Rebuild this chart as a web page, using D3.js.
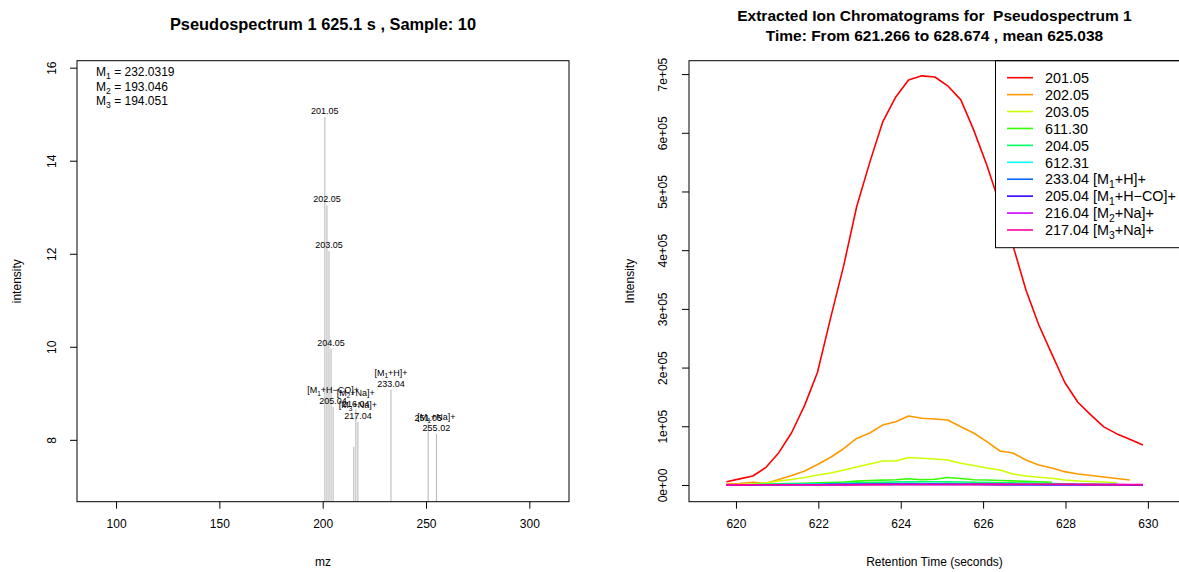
<!DOCTYPE html>
<html><head><meta charset="utf-8">
<script src="https://cdn.jsdelivr.net/npm/d3@7"></script>
<style>
html,body{margin:0;padding:0;background:#fff;}
svg{display:block;font-family:"Liberation Sans",Arial,Helvetica,sans-serif;}
</style></head><body>
<svg id="chart" width="1179" height="572"></svg>
<script>
// ---- Pseudospectrum (left panel) ----
const specMz    = [201.05, 202.05, 203.05, 204.05, 205.04, 215.04, 216.04, 217.04, 233.04, 251.05, 255.02];
const specInt   = [14.94, 13.04, 12.06, 9.96, 8.71, 7.85, 8.65, 8.38, 9.08, 8.35, 8.13];
const specLabel = ["201.05", "202.05", "203.05", "204.05", "[M_1+H\u2212CO]+\n205.04", "",
                   "[M_2+Na]+\n216.04", "[M_3+Na]+\n217.04", "[M_1+H]+\n233.04", "251.05", "[M_1+Na]+\n255.02"];
const massNotes = ["M_1 = 232.0319", "M_2 = 193.046", "M_3 = 194.051"];
const mzTicks  = [100, 150, 200, 250, 300];
const intTicks = [8, 10, 12, 14, 16];

// ---- Extracted ion chromatograms (right panel) ----
const rt = [619.77, 620.09, 620.41, 620.72, 621.04, 621.35, 621.67, 621.98, 622.30, 622.62, 622.93,
            623.25, 623.56, 623.88, 624.19, 624.51, 624.83, 625.14, 625.46, 625.77, 626.09, 626.41,
            626.72, 627.04, 627.35, 627.67, 627.98, 628.30, 628.62, 628.93, 629.25, 629.56, 629.88];
const eic201 = [5600, 10400, 15300, 29500, 55000, 89000, 136000, 192000, 285000, 375000, 474000,
                550000, 618000, 661000, 690000, 697000, 695000, 680000, 656000, 605000, 545000, 477000,
                409000, 332000, 273000, 223000, 175000, 141000, 119000, 99000, 87000, 78000, 68000];
const eic202 = [1700, 2600, 4600, 2600, 9400, 16200, 23900, 34900, 47200, 62200, 79200,
                88600, 102000, 107800, 117500, 113600, 112400, 110700, 99300, 88600, 73800, 57900,
                54500, 42600, 34100, 29000, 22700, 18700, 16200, 13600, 11100, 8500, null];
const eic203 = [500, 900, 1700, 3400, 6800, 9400, 12800, 17000, 20400, 25600, 30700,
                35800, 40900, 40900, 46800, 45500, 44300, 42600, 37000, 33200, 29000, 25600,
                18700, 15300, 13100, 11400, 8500, 6800, 6000, 5100, 3900, null, null];
const eic611 = [null, 500, 900, 1300, 1800, 2300, 2900, 3500, 4200, 5000, 6500,
                7500, 8300, 8800, 10500, 9000, 9700, 12800, 11000, 9000, 8500, 7700,
                7000, 6200, 5400, 4600, null, null, null, null, null, null, null];
const eic204 = [null, null, 400, 600, 900, 1200, 1600, 2000, 2500, 3000, 3500,
                4000, 4500, 5000, 5300, 5400, 5600, 5300, 5000, 4700, 4300, 3900,
                3500, 3100, 2700, 2300, 2000, 1700, 1400, 1200, 1000, null, null];
const eic612 = [null, 300, 500, 700, 900, 1100, 1300, 1500, 1700, 1900, 2000,
                2100, 2200, 2300, 2400, 2400, 2300, 2200, 2100, 1800, 1500, 1200,
                1000, 800, 600, 500, 400, 300, 300, 200, 200, null, null];
const eic233 = [300, 400, 500, 500, 600, 700, 800, 900, 1000, 1100, 1200,
                1300, 1400, 1500, 1500, 1500, 1400, 1400, 1300, 1200, 1100, 1000,
                900, 800, 700, 600, 500, 500, 400, 400, 300, 300, 300];
const eic205 = [200, 200, 300, 300, 400, 400, 500, 500, 600, 600, 700,
                700, 800, 800, 900, 900, 900, 800, 800, 700, 700, 600,
                600, 500, 500, 400, 400, 400, 300, 300, 300, 200, 200];
const eic216 = [100, 200, 200, 300, 300, 400, 400, 500, 500, 600, 600,
                700, 700, 800, 800, 900, 900, 900, 900, 900, 900, 900,
                900, 900, 900, 900, 1000, 1000, 1000, 1000, 1000, 900, 900];
const eic217 = [200, 200, 300, 300, 300, 400, 400, 400, 500, 500, 500,
                600, 600, 700, 700, 800, 800, 900, 900, 1000, 1000, 1100,
                1200, 1300, 1300, 1300, 1300, 700, 600, 500, 400, 300, 300];
const eicSeries = [eic201, eic202, eic203, eic611, eic204, eic612, eic233, eic205, eic216, eic217];
const eicNames  = ["201.05", "202.05", "203.05", "611.30", "204.05", "612.31",
                   "233.04 [M_1+H]+", "205.04 [M_1+H\u2212CO]+", "216.04 [M_2+Na]+", "217.04 [M_3+Na]+"];
const eicColors = ["#FF0000", "#FF9900", "#CCFF00", "#33FF00", "#00FF66",
                   "#00FFFF", "#0066FF", "#3300FF", "#CC00FF", "#FF0099"];
const rtTicks = [620, 622, 624, 626, 628, 630];
const yTicksR = [0, 100000, 200000, 300000, 400000, 500000, 600000, 700000];
const yTickLabelsR = ["0e+00", "1e+05", "2e+05", "3e+05", "4e+05", "5e+05", "6e+05", "7e+05"];

const svg = d3.select("#chart");
const TOP = 60.7, BOTTOM = 501.7;

// text with digit subscripts written as _1, _2 ...
function rich(sel, str, fs) {
  const parts = str.split(/_(\d)/);
  let lowered = false;
  parts.forEach((p, i) => {
    if (p === "") return;
    const t = sel.append("tspan").text(p);
    if (i % 2 === 1) {
      t.attr("font-size", fs * 0.72).attr("dy", fs * 0.28);
      lowered = true;
    } else if (lowered) {
      t.attr("dy", -fs * 0.28);
      lowered = false;
    }
  });
}

function styleAxis(g) {
  g.select(".domain").remove();
  g.selectAll(".tick line").attr("stroke", "#000");
  g.selectAll(".tick text").attr("fill", "#000").attr("font-size", 12);
}

// ================= Left panel =================
const L = {x0: 77, x1: 569};
const xL = d3.scaleLinear().domain([81.1, 319.2]).range([L.x0, L.x1]);
const yL = d3.scaleLinear().domain([6.67, 16.15]).range([BOTTOM, TOP]);

svg.append("clipPath").attr("id", "clipL").append("rect")
  .attr("x", L.x0).attr("y", TOP).attr("width", L.x1 - L.x0).attr("height", BOTTOM - TOP);

const gL = svg.append("g");
gL.append("g").attr("clip-path", "url(#clipL)")
  .selectAll("line").data(specMz).join("line")
  .attr("x1", d => xL(d)).attr("x2", d => xL(d))
  .attr("y1", yL(0)).attr("y2", (d, i) => yL(specInt[i]))
  .attr("stroke", "#b4b4b4").attr("stroke-width", 1);

// peak labels sit just above each stick
specMz.forEach((mz, i) => {
  if (!specLabel[i]) return;
  const lines = specLabel[i].split("\n");
  const yTop = yL(specInt[i]);
  lines.forEach((ln, j) => {
    const base = yTop - 3 - (lines.length - 1 - j) * 10.8;
    const t = gL.append("text").attr("x", xL(mz)).attr("y", base)
      .attr("text-anchor", "middle").attr("font-size", 9).attr("fill", "#000");
    rich(t, ln, 9);
  });
});

massNotes.forEach((s, i) => {
  const t = gL.append("text").attr("x", 96).attr("y", 76 + i * 14.5).attr("font-size", 12);
  rich(t, s, 12);
});

gL.append("rect").attr("x", L.x0).attr("y", TOP).attr("width", L.x1 - L.x0).attr("height", BOTTOM - TOP)
  .attr("fill", "none").attr("stroke", "#000").attr("stroke-width", 1);

const axBL = gL.append("g").attr("transform", `translate(0,${BOTTOM})`)
  .call(d3.axisBottom(xL).tickValues(mzTicks).tickSize(7).tickFormat(d3.format("d")));
styleAxis(axBL);
axBL.selectAll(".tick text").attr("y", null).attr("dy", null).attr("transform", "translate(0,22.5)")
  .attr("dominant-baseline", "central");

const axLL = gL.append("g").attr("transform", `translate(${L.x0},0)`)
  .call(d3.axisLeft(yL).tickValues(intTicks).tickSize(7).tickFormat(d3.format("d")));
styleAxis(axLL);
axLL.selectAll(".tick text").attr("x", null).attr("dy", null)
  .attr("transform", "translate(-25,0) rotate(-90)").attr("text-anchor", "middle")
  .attr("dominant-baseline", "central");

gL.append("text").attr("x", (L.x0 + L.x1) / 2).attr("y", 29.5).attr("text-anchor", "middle")
  .attr("font-size", 16.4).attr("font-weight", "bold").text("Pseudospectrum 1 625.1 s , Sample: 10");
gL.append("text").attr("x", (L.x0 + L.x1) / 2).attr("y", 562).attr("text-anchor", "middle")
  .attr("dominant-baseline", "central").attr("font-size", 12).text("mz");
gL.append("text").attr("transform", `translate(17,${(TOP + BOTTOM) / 2}) rotate(-90)`)
  .attr("text-anchor", "middle").attr("dominant-baseline", "central").attr("font-size", 12).text("intensity");

// ================= Right panel =================
const R = {x0: 689, x1: 1180};
const xR = d3.scaleLinear().domain([618.86, 630.78]).range([R.x0, R.x1]);
const yR = d3.scaleLinear().domain([-28500, 722800]).range([BOTTOM, TOP]);

svg.append("clipPath").attr("id", "clipR").append("rect")
  .attr("x", R.x0).attr("y", TOP).attr("width", R.x1 - R.x0).attr("height", BOTTOM - TOP);

const gR = svg.append("g");
const line = d3.line().defined(d => d[1] != null).x(d => xR(d[0])).y(d => yR(d[1]));
const gLines = gR.append("g").attr("clip-path", "url(#clipR)");
eicSeries.forEach((vals, i) => {
  gLines.append("path").datum(rt.map((t, k) => [t, vals[k]]))
    .attr("d", line).attr("fill", "none").attr("stroke", eicColors[i])
    .attr("stroke-width", 1.6).attr("stroke-linejoin", "round");
});

// legend (top right, inside the plot box)
const lg = gR.append("g");
lg.append("rect").attr("x", 995.5).attr("y", TOP).attr("width", 200).attr("height", 187)
  .attr("fill", "#fff").attr("stroke", "#000").attr("stroke-width", 1);
eicNames.forEach((nm, i) => {
  const cy = 77.7 + i * 16.92;
  lg.append("line").attr("x1", 1007).attr("x2", 1033).attr("y1", cy).attr("y2", cy)
    .attr("stroke", eicColors[i]).attr("stroke-width", 1.6);
  const t = lg.append("text").attr("x", 1045).attr("y", cy + 5.2).attr("font-size", 14.4);
  rich(t, nm, 14.4);
});

gR.append("rect").attr("x", R.x0).attr("y", TOP).attr("width", R.x1 - R.x0).attr("height", BOTTOM - TOP)
  .attr("fill", "none").attr("stroke", "#000").attr("stroke-width", 1);

const axBR = gR.append("g").attr("transform", `translate(0,${BOTTOM})`)
  .call(d3.axisBottom(xR).tickValues(rtTicks).tickSize(7).tickFormat(d3.format("d")));
styleAxis(axBR);
axBR.selectAll(".tick text").attr("y", null).attr("dy", null).attr("transform", "translate(0,22.5)")
  .attr("dominant-baseline", "central");

const axLR = gR.append("g").attr("transform", `translate(${R.x0},0)`)
  .call(d3.axisLeft(yR).tickValues(yTicksR).tickSize(7).tickFormat((d, i) => yTickLabelsR[i]));
styleAxis(axLR);
axLR.selectAll(".tick text").attr("x", null).attr("dy", null)
  .attr("transform", "translate(-26,0) rotate(-90)").attr("text-anchor", "middle")
  .attr("dominant-baseline", "central");

const cxR = (R.x0 + R.x1) / 2;
gR.append("text").attr("x", cxR).attr("y", 20.5).attr("text-anchor", "middle")
  .attr("font-size", 15.5).attr("font-weight", "bold")
  .style("white-space", "pre").text("Extracted Ion Chromatograms for  Pseudospectrum 1");
gR.append("text").attr("x", cxR).attr("y", 40.5).attr("text-anchor", "middle")
  .attr("font-size", 15.5).attr("font-weight", "bold")
  .text("Time: From 621.266 to 628.674 , mean 625.038");
gR.append("text").attr("x", cxR).attr("y", 562).attr("text-anchor", "middle")
  .attr("dominant-baseline", "central").attr("font-size", 12).text("Retention Time (seconds)");
gR.append("text").attr("transform", `translate(630,${(TOP + BOTTOM) / 2}) rotate(-90)`)
  .attr("text-anchor", "middle").attr("dominant-baseline", "central").attr("font-size", 12).text("Intensity");
</script>
</body></html>
